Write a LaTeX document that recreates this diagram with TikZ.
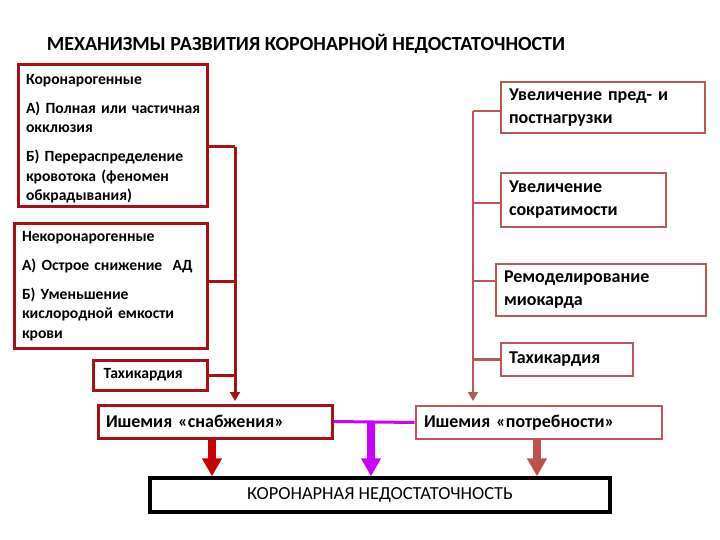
\documentclass[tikz,border=0pt]{standalone}
\usepackage{fontspec}
\setmainfont{Carlito}
\usetikzlibrary{arrows.meta}
\definecolor{lred}{RGB}{168,16,22}
\definecolor{rred}{RGB}{185,88,84}
\definecolor{ared}{RGB}{200,0,0}
\definecolor{apur}{RGB}{204,0,255}
\definecolor{arr}{RGB}{192,80,77}
\tikzset{
  lbox/.style={draw=lred, line width=3pt, fill=white, inner xsep=8pt, inner ysep=0pt, align=left,
    font=\fontsize{15.6}{19.5}\selectfont\bfseries},
  rbox/.style={draw=rred, line width=2.8pt, fill=white, inner xsep=8pt, inner ysep=0pt, align=left,
    font=\fontsize{18}{23}\selectfont\bfseries},
  lline/.style={draw=lred, line width=3pt},
  rline/.style={draw=rred, line width=2.6pt},
  thick arrow/.style={line width=8pt, -{Triangle[width=19pt,length=18pt]}},
}
\begin{document}
\begin{tikzpicture}[x=1pt,y=-1pt]
\useasboundingbox (0,0) rectangle (720,540);
\node (title) at (306,44) {\fontsize{20}{22}\selectfont\bfseries МЕХАНИЗМЫ РАЗВИТИЯ КОРОНАРНОЙ НЕДОСТАТОЧНОСТИ};

\node[lbox, minimum width=189pt, minimum height=142pt, text width=173pt] (L1) at (112.5,136)
 {\rule{0pt}{16pt}\mbox{Коронарогенные}\\[9.5pt]\mbox{А) Полная или частичная}\\\mbox{окклюзия}\\[9.5pt]\mbox{Б) Перераспределение}\\\mbox{кровотока (феномен}\\\mbox{обкрадывания)}};
\node[lbox, minimum width=193pt, minimum height=124pt, text width=177pt] (L2) at (110.5,286)
 {\mbox{Некоронарогенные}\\[9.5pt]\mbox{А) Острое снижение~ АД}\\[9pt]\mbox{Б) Уменьшение}\\\mbox{кислородной емкости}\\\mbox{крови}};
\node[lbox, minimum width=114pt, minimum height=30pt, text width=98pt] (L3) at (150,375) {\,Тахикардия};

\node[rbox, minimum width=204pt, minimum height=51pt, text width=188pt] (R1) at (603,107.5) {Увеличение пред- и\\постнагрузки};
\node[rbox, minimum width=165pt, minimum height=54pt, text width=149pt] (R2) at (583.5,200) {Увеличение\\сократимости};
\node[rbox, minimum width=210pt, minimum height=52pt, text width=194pt] (R3) at (601,290) {Ремоделирование\\миокарда};
\node[rbox, minimum width=132pt, minimum height=33pt, text width=116pt] (R4) at (567,359.5) {Тахикардия};

\node[lbox, font=\fontsize{18}{23}\selectfont\bfseries, minimum width=234pt, minimum height=33pt, text width=218pt] (IS) at (215,421.5) {Ишемия «снабжения»};
\node[rbox, minimum width=246pt, minimum height=33pt, text width=230pt] (ID) at (539,422.5) {Ишемия «потребности»};

\node[draw=black, line width=3.5pt, minimum width=460pt, minimum height=34pt, inner sep=0pt,
  font=\fontsize{18.4}{20}\selectfont] (K) at (380,495) {КОРОНАРНАЯ НЕДОСТАТОЧНОСТЬ};

% left spine
\coordinate (lt) at (235,147);
\coordinate (lb) at (235,401);
\coordinate (l2) at ([yshift=5pt]L2.east);
\draw[lline] ([yshift=-11pt]L1.east) -- (lt);
\draw[lline] (l2) -- (l2 -| lt);
\draw[lline] (L3.east) -- (L3.east -| lt);
\draw[lline, -{Triangle[width=10pt,length=9pt]}] (lt) -- (lb);

% right spine
\coordinate (rt) at (473,111);
\coordinate (rb) at (473,401);
\coordinate (r2) at ([yshift=-3pt]R2.west);
\coordinate (r3) at ([yshift=9pt]R3.west);
\draw[rline] ([yshift=-3.5pt]R1.west) -- (rt);
\draw[rline] (r2) -- (r2 -| rt);
\draw[rline] (r3) -- (r3 -| rt);
\draw[rline] (R4.west) -- (R4.west -| rt);
\draw[rline, -{Triangle[width=10pt,length=9pt]}] (rt) -- (rb);

% bottom
\coordinate (pm) at (371,422);
\draw[draw=apur, line width=3pt] (IS.east) -- (ID.west);
\draw[apur, thick arrow] (pm) -- (pm |- K.north);
\draw[ared, thick arrow] (IS.south -| 212,0) -- (K.north -| 212,0);
\draw[arr, thick arrow] (ID.south -| 537,0) -- (K.north -| 537,0);
\end{tikzpicture}
\end{document}
